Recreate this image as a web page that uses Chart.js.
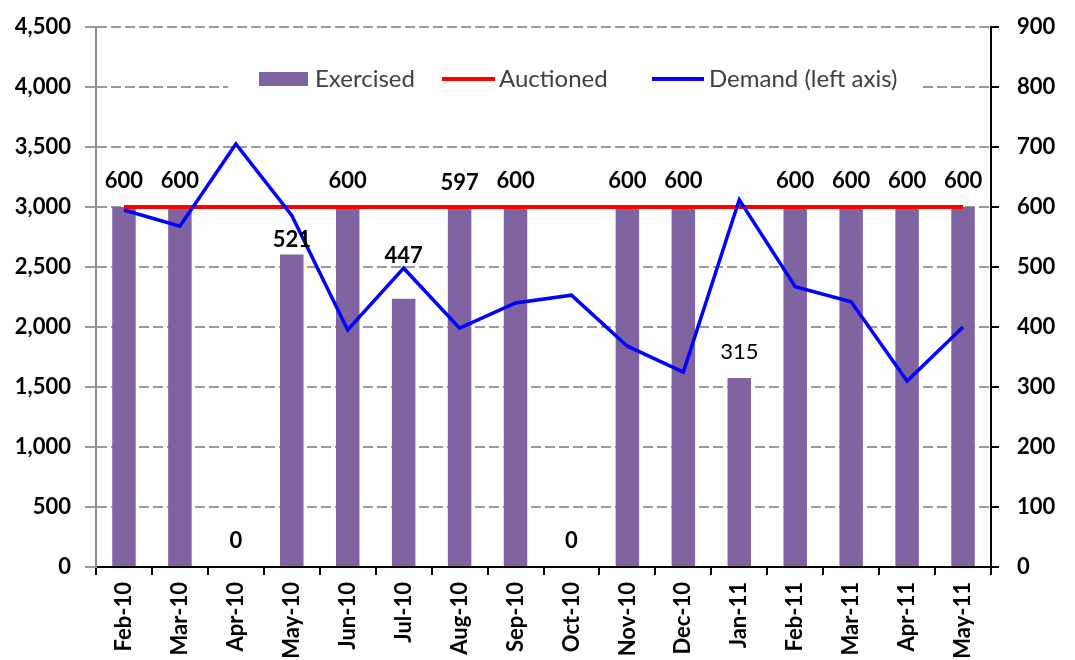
<!DOCTYPE html>
<html>
<head>
<meta charset="utf-8">
<script src="https://cdn.jsdelivr.net/npm/chart.js@4"></script>
<style>
html,body{margin:0;padding:0;background:#fff;}
#wrap{width:1075px;height:660px;}
</style>
</head>
<body>
<div id="wrap"><canvas id="c" width="1075" height="660"></canvas></div>
<script>
const categories = ["Feb-10","Mar-10","Apr-10","May-10","Jun-10","Jul-10","Aug-10","Sep-10","Oct-10","Nov-10","Dec-10","Jan-11","Feb-11","Mar-11","Apr-11","May-11"];
const exercised = [600,600,0,521,600,447,597,600,0,600,600,315,600,600,600,600];
const auctioned = [600,600,600,600,600,600,600,600,600,600,600,600,600,600,600,600];
const demand = [2975,2840,3525,2930,1975,2490,1990,2200,2265,1840,1625,3060,2335,2210,1550,2000];
const leftTicks = [0,500,1000,1500,2000,2500,3000,3500,4000,4500];
const rightTicks = [0,100,200,300,400,500,600,700,800,900];

const FONT = "Lato, 'Open Sans', sans-serif";

const barLabels = {
  id: 'barLabels',
  afterDatasetsDraw(chart, args, opts) {
    const ctx = chart.ctx;
    const meta = chart.getDatasetMeta(0);
    const special = opts.offsetOverrides || {};
    ctx.save();
    ctx.fillStyle = '#000';
    ctx.textAlign = 'center';
    ctx.textBaseline = 'middle';
    meta.data.forEach((el, i) => {
      const v = exercised[i];
      ctx.font = (v === 315 ? 'normal ' : 'bold ') + '22px ' + FONT;
      const off = special[i] !== undefined ? special[i] : 26;
      ctx.fillText(String(v), el.x, el.y - off);
    });
    ctx.restore();
  }
};

const customLegend = {
  id: 'customLegend',
  afterDraw(chart) {
    const ctx = chart.ctx;
    const ds = chart.data.datasets;
    ctx.save();
    ctx.fillStyle = '#fff';
    ctx.fillRect(228, 62, 694, 34);
    ctx.font = '24px ' + FONT;
    ctx.textBaseline = 'middle';
    const y = 79;
    ctx.fillStyle = ds[0].backgroundColor;
    ctx.fillRect(259, 72, 49, 14);
    ctx.fillStyle = '#404040';
    ctx.fillText(ds[0].label, 315, y);
    ctx.strokeStyle = ds[1].borderColor;
    ctx.lineWidth = 4;
    ctx.beginPath(); ctx.moveTo(442, y); ctx.lineTo(495, y); ctx.stroke();
    ctx.fillText(ds[1].label, 499, y);
    ctx.strokeStyle = ds[2].borderColor;
    ctx.beginPath(); ctx.moveTo(652, y); ctx.lineTo(704, y); ctx.stroke();
    ctx.fillText(ds[2].label, 709, y);
    ctx.restore();
  }
};

new Chart(document.getElementById('c'), {
  type: 'bar',
  data: {
    labels: categories,
    datasets: [
      {
        type: 'bar', label: 'Exercised', data: exercised, yAxisID: 'y1',
        backgroundColor: '#8064A2', barPercentage: 0.42, categoryPercentage: 1, order: 3
      },
      {
        type: 'line', label: 'Auctioned', data: auctioned, yAxisID: 'y1',
        borderColor: '#FF0000', borderWidth: 4, pointRadius: 0, tension: 0, order: 2
      },
      {
        type: 'line', label: 'Demand (left axis)', data: demand, yAxisID: 'y',
        borderColor: '#0000FF', borderWidth: 3.5, pointRadius: 0, tension: 0, order: 1
      }
    ]
  },
  options: {
    responsive: false,
    animation: false,
    layout: { padding: { top: 27, left: 0, right: 0, bottom: 0 } },
    plugins: {
      legend: { display: false }, tooltip: { enabled: false },
      barLabels: { offsetOverrides: { 3: 14, 5: 43 } }
    },
    scales: {
      x: {
        offset: true,
        grid: { offset: true, drawOnChartArea: false, drawTicks: true, tickLength: 8, color: '#000', lineWidth: 2 },
        border: { color: '#000', width: 2 },
        ticks: { minRotation: 90, maxRotation: 90, autoSkip: false, color: '#000', padding: 7,
          font: { family: FONT, size: 22, weight: 'bold' } },
        afterFit(s) { s.height = 93; s.paddingLeft = 0; s.paddingRight = 0; s.paddingTop = 0; s.paddingBottom = 0; }
      },
      y: {
        position: 'left', min: 0, max: 4500,
        afterBuildTicks(s) { s.ticks = leftTicks.map(v => ({ value: v })); },
        grid: { color: '#9a9a9a', lineWidth: 2, tickLength: 11 },
        border: { color: '#8c8c8c', width: 2, dash: [10, 4] },
        ticks: { color: '#000', padding: 14, font: { family: FONT, size: 22, weight: 'bold' },
          callback: v => v.toLocaleString('en-US') },
        afterFit(s) { s.width = 96; s.paddingTop = 0; s.paddingBottom = 0; }
      },
      y1: {
        position: 'right', min: 0, max: 900,
        afterBuildTicks(s) { s.ticks = rightTicks.map(v => ({ value: v })); },
        grid: { drawOnChartArea: false, color: '#000', lineWidth: 2, tickLength: 8 },
        border: { color: '#000', width: 2 },
        ticks: { color: '#000', padding: 18, font: { family: FONT, size: 22, weight: 'bold' } },
        afterFit(s) { s.width = 84; s.paddingTop = 0; s.paddingBottom = 0; }
      }
    }
  },
  plugins: [barLabels, customLegend]
});
</script>
</body>
</html>
